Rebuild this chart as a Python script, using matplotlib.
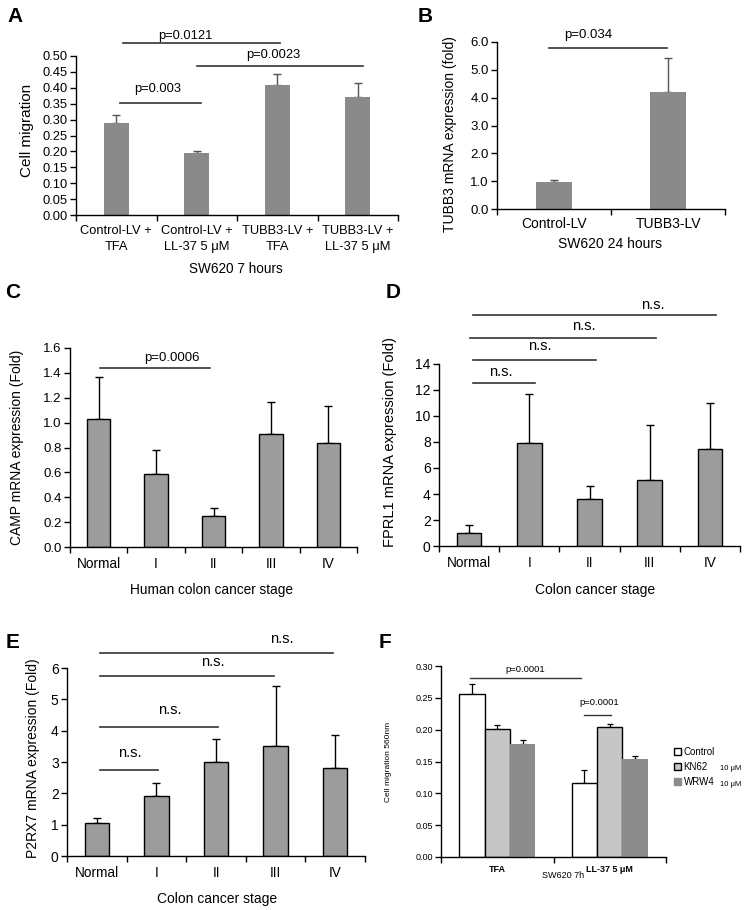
import numpy as np
import matplotlib
matplotlib.use("Agg")
import matplotlib.pyplot as plt
from matplotlib.patches import Patch

plt.rcParams["font.family"] = ["Liberation Sans", "DejaVu Sans"]

W, H = 747, 910

# ---- data ----
a_labels = ["Control-LV +\nTFA", "Control-LV +\nLL-37 5 μM", "TUBB3-LV +\nTFA", "TUBB3-LV +\nLL-37 5 μM"]
a_mean = [0.29, 0.195, 0.41, 0.37]
a_err = [0.023, 0.005, 0.033, 0.045]

b_labels = ["Control-LV", "TUBB3-LV"]
b_mean = [0.98, 4.22]
b_err = [0.07, 1.20]

stages = ["Normal", "I", "II", "III", "IV"]
c_mean = [1.03, 0.59, 0.25, 0.905, 0.835]
c_err = [0.34, 0.19, 0.06, 0.26, 0.295]

d_mean = [1.0, 7.9, 3.6, 5.1, 7.45]
d_err = [0.62, 3.82, 1.02, 4.17, 3.55]

e_mean = [1.05, 1.92, 3.0, 3.52, 2.82]
e_err = [0.15, 0.40, 0.73, 1.91, 1.03]

f_groups = ["TFA", "LL-37 5 μM"]
f_series = ["Control", "KN62", "WRW4"]
f_control = [0.256, 0.116]
f_kn62 = [0.201, 0.204]
f_wrw4 = [0.178, 0.154]
f_control_err = [0.015, 0.020]
f_kn62_err = [0.006, 0.005]
f_wrw4_err = [0.006, 0.005]

fig = plt.figure(figsize=(W / 100, H / 100), dpi=100)


def add_ax(l, t, r, b):
    return fig.add_axes([l / W, 1 - b / H, (r - l) / W, (b - t) / H])


def ftext(x, y, s, **kw):
    fig.text(x / W, 1 - y / H, s, **kw)


def style(ax, n, ylim, yticks, fmt, fs, labels, xfs, pad, labelkw=None):
    for s in ["top", "right"]:
        ax.spines[s].set_visible(False)
    for s in ["left", "bottom"]:
        ax.spines[s].set_linewidth(1.0)
    ax.set_xlim(-0.5, n - 0.5)
    ax.set_ylim(*ylim)
    ax.set_yticks(yticks)
    ax.set_yticklabels([fmt.format(v) for v in yticks], fontsize=fs)
    ax.tick_params(axis="y", direction="out", length=4, width=1, pad=2)
    ax.set_xticks(np.arange(n + 1) - 0.5)
    ax.set_xticklabels([])
    ax.tick_params(axis="x", which="major", direction="out", length=4, width=1)
    ax.set_xticks(np.arange(n), minor=True)
    ax.set_xticklabels(labels, minor=True, fontsize=xfs, linespacing=1.4, **(labelkw or {}))
    ax.tick_params(axis="x", which="minor", length=0, pad=pad)


def bracket(ax, x1, x2, y, tx, ty, label, fs, color="#333333", lw=1.2):
    ax.plot([x1, x2], [y, y], color=color, lw=lw, clip_on=False)
    ax.text(tx, ty, label, ha="center", va="center", fontsize=fs, clip_on=False)


def upper_err(ax, x, mean, err, color, lw=1.0, cap=3):
    ax.errorbar(x, mean, yerr=[np.zeros(len(err)), err], fmt="none",
                ecolor=color, elinewidth=lw, capsize=cap, capthick=lw, zorder=1)


# ---- A ----
ax = add_ax(76, 56, 398, 215)
x = np.arange(len(a_mean))
upper_err(ax, x, a_mean, a_err, "#555555")
ax.bar(x, a_mean, width=0.31, color="#8a8a8a", zorder=2)
style(ax, 4, (0, 0.5), np.arange(0, 0.501, 0.05), "{:.2f}", 9.3, a_labels, 9.3, 7.5)
bracket(ax, 0.09, 2.04, 0.541, 0.86, 0.563, "p=0.0121", 9.3)
bracket(ax, 1.0, 3.06, 0.469, 1.95, 0.503, "p=0.0023", 9.3)
bracket(ax, 0.05, 1.05, 0.352, 0.51, 0.396, "p=0.003", 9.3)
ftext(27, 130, "Cell migration", rotation=90, ha="center", va="center", fontsize=11)
ftext(236, 269, "SW620 7 hours", ha="center", va="center", fontsize=9.8)

# ---- B ----
ax = add_ax(497, 42, 725, 209)
x = np.arange(len(b_mean))
upper_err(ax, x, b_mean, b_err, "#555555")
ax.bar(x, b_mean, width=0.31, color="#8a8a8a", zorder=2)
style(ax, 2, (0, 6), np.arange(0, 6.01, 1.0), "{:.1f}", 9.5, b_labels, 10, 6)
bracket(ax, -0.04, 0.99, 5.78, 0.30, 6.25, "p=0.034", 9.5)
ftext(450, 134, "TUBB3 mRNA expression (fold)", rotation=90, ha="center", va="center", fontsize=10)
ftext(610, 244, "SW620 24 hours", ha="center", va="center", fontsize=10)

# ---- C ----
ax = add_ax(70, 348, 357, 547)
x = np.arange(len(c_mean))
upper_err(ax, x, c_mean, c_err, "black")
ax.bar(x, c_mean, width=0.41, color="#9c9c9c", edgecolor="black", linewidth=1.0, zorder=2)
style(ax, 5, (0, 1.6), np.arange(0, 1.61, 0.2), "{:.1f}", 9.5, stages, 9.8, 7)
bracket(ax, 0.02, 1.94, 1.44, 1.28, 1.52, "p=0.0006", 9.5)
ftext(17, 447, "CAMP mRNA expression (Fold)", rotation=90, ha="center", va="center", fontsize=10)
ftext(212, 590, "Human colon cancer stage", ha="center", va="center", fontsize=9.8)

# ---- D ----
ax = add_ax(439, 364, 740, 546)
x = np.arange(len(d_mean))
upper_err(ax, x, d_mean, d_err, "black")
ax.bar(x, d_mean, width=0.41, color="#9c9c9c", edgecolor="black", linewidth=1.0, zorder=2)
style(ax, 5, (0, 14), np.arange(0, 14.1, 2), "{:.0f}", 10, stages, 9.8, 7)
for x1, x2, y, tx, ty in [(0.07, 1.1, 12.54, 0.52, 13.4), (0.07, 2.1, 14.3, 1.18, 15.4),
                          (0.02, 3.1, 16.0, 1.9, 16.9), (0.07, 4.1, 17.8, 3.05, 18.5)]:
    bracket(ax, x1, x2, y, tx, ty, "n.s.", 10.5)
ftext(390, 442, "FPRL1 mRNA expression (Fold)", rotation=90, ha="center", va="center", fontsize=10.5)
ftext(595, 590, "Colon cancer stage", ha="center", va="center", fontsize=10)

# ---- E ----
ax = add_ax(67, 668, 365, 856)
x = np.arange(len(e_mean))
upper_err(ax, x, e_mean, e_err, "black")
ax.bar(x, e_mean, width=0.41, color="#9c9c9c", edgecolor="black", linewidth=1.0, zorder=2)
style(ax, 5, (0, 6), np.arange(0, 6.1, 1), "{:.0f}", 10, stages, 9.8, 7)
for x1, x2, y, tx, ty in [(0.05, 1.03, 2.74, 0.55, 3.29), (0.05, 2.03, 4.12, 1.22, 4.66),
                          (0.05, 2.97, 5.74, 1.95, 6.19), (0.05, 3.97, 6.48, 3.1, 6.93)]:
    bracket(ax, x1, x2, y, tx, ty, "n.s.", 10.5)
ftext(33, 758, "P2RX7 mRNA expression (Fold)", rotation=90, ha="center", va="center", fontsize=10)
ftext(217, 899, "Colon cancer stage", ha="center", va="center", fontsize=10)

# ---- F ----
ax = add_ax(441, 666, 666, 857)
x = np.arange(len(f_groups))
bw = 0.225
specs = [
    (f_control, f_control_err, "white", "black"),
    (f_kn62, f_kn62_err, "#c6c6c6", "black"),
    (f_wrw4, f_wrw4_err, "#8c8c8c", "none"),
]
handles = []
for i, (vals, errs, fc, ec) in enumerate(specs):
    xs = x + (i - 1) * bw
    upper_err(ax, xs, vals, errs, "black", lw=0.9, cap=2)
    ax.bar(xs, vals, width=bw, color=fc, edgecolor=ec, linewidth=1.0, zorder=2)
    handles.append(Patch(facecolor=fc, edgecolor=ec if ec != "none" else fc, linewidth=1.0))
style(ax, 2, (0, 0.30), np.arange(0, 0.301, 0.05), "{:.2f}", 6.5, f_groups, 6.5, 6,
      labelkw={"fontweight": "bold"})
bracket(ax, -0.24, 0.74, 0.281, 0.25, 0.294, "p=0.0001", 6.8, lw=1.0)
bracket(ax, 0.77, 1.01, 0.223, 0.91, 0.242, "p=0.0001", 6.8, lw=1.0)
ax.legend(handles, f_series, loc="center left",
          bbox_to_anchor=(674 / W, 1 - 767 / H), bbox_transform=fig.transFigure,
          frameon=False, fontsize=7, handlelength=0.75, handleheight=0.75,
          handletextpad=0.25, labelspacing=0.5, borderpad=0, borderaxespad=0)
ftext(731, 768, "10 μM", ha="center", va="center", fontsize=5.5)
ftext(731, 784, "10 μM", ha="center", va="center", fontsize=5.5)
ftext(388, 762, "Cell migration 560nm", rotation=90, ha="center", va="center", fontsize=6)
ftext(563, 876, "SW620 7h", ha="center", va="center", fontsize=6.5)

# ---- panel letters ----
for lab, px, py in [("A", 15, 16), ("B", 425, 16), ("C", 13, 292),
                    ("D", 393, 292), ("E", 13, 642), ("F", 385, 642)]:
    ftext(px, py, lab, ha="center", va="center", fontsize=15, fontweight="bold")

fig.savefig("out.png", dpi=100)
